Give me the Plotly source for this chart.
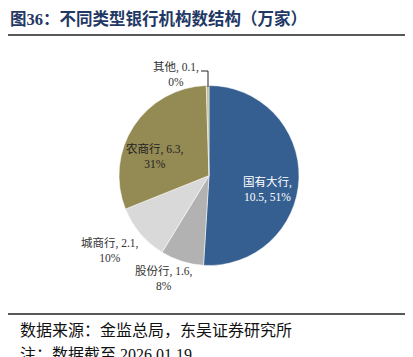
import plotly.graph_objects as go

categories = ["国有大行", "股份行", "城商行", "农商行", "其他"]
values = [10.5, 1.6, 2.1, 6.3, 0.1]
pcts = ["51%", "8%", "10%", "31%", "0%"]
colors = ["#365F91", "#B2B2B2", "#D9D9D9", "#948A54", "#C4BD97"]

title = "图36：不同类型银行机构数结构（万家）"
source = "数据来源：金监总局，东吴证券研究所"
note = "注：数据截至 2026.01.19"

# page body has an 8px margin, so the figure is drawn 8px smaller and coordinates are shifted
OFF = 8
W, H = 413 - OFF, 357 - OFF
cx, cy, r = 209 - OFF, 175.5 - OFF, 90


def px(x):
    return (x - OFF) / W


def py(y):
    return 1 - (y - OFF) / H


fig = go.Figure(go.Pie(
    labels=categories, values=values, sort=False, direction="clockwise",
    rotation=0, marker=dict(colors=colors, line=dict(color="white", width=0.5)),
    textinfo="none", hoverinfo="skip", showlegend=False,
    domain=dict(x=[(cx - r) / W, (cx + r) / W], y=[(H - cy - r) / H, (H - cy + r) / H]),
))

FONT = "Liberation Serif, Noto Sans CJK SC"
lab_font = dict(family=FONT, size=11.5)


def lab(i, split_after_name=False):
    if split_after_name:
        return f"{categories[i]},<br>{values[i]}, {pcts[i]}"
    return f"{categories[i]}, {values[i]},<br>{pcts[i]}"


ann = [
    (267, 190, lab(0, True), "white"),
    (164, 278, lab(1), "#333"),
    (110, 250, lab(2), "#333"),
    (155, 156, lab(3), "#222"),
    (176, 74, lab(4), "#333"),
]
annotations = []
for x, y, t, c in ann:
    annotations.append(dict(x=px(x), y=py(y), xref="paper", yref="paper", xanchor="center",
                            yanchor="middle", text=t, showarrow=False,
                            font=dict(lab_font, color=c), align="center"))

annotations.append(dict(x=px(8), y=py(19), xref="paper", yref="paper", xanchor="left", yanchor="middle",
                        text=f"<b>{title}</b>", showarrow=False,
                        font=dict(family=FONT, size=16.5, color="#1F3864")))
annotations.append(dict(x=px(18), y=py(330), xref="paper", yref="paper", xanchor="left", yanchor="middle",
                        text=source, showarrow=False,
                        font=dict(family=FONT, size=16, color="#111")))
annotations.append(dict(x=px(18), y=py(354), xref="paper", yref="paper", xanchor="left", yanchor="middle",
                        text=note, showarrow=False,
                        font=dict(family=FONT, size=16, color="#111")))

shapes = [
    dict(type="line", xref="paper", yref="paper", x0=px(8), x1=px(411), y0=py(35), y1=py(35),
         line=dict(color="#222", width=1.5)),
    dict(type="line", xref="paper", yref="paper", x0=px(8), x1=px(411), y0=py(314), y1=py(314),
         line=dict(color="#222", width=1.5)),
    dict(type="path", xref="paper", yref="paper",
         path=f"M {px(208)} {py(87)} L {px(208)} {py(71)} L {px(201)} {py(71)}",
         line=dict(color="#222", width=1)),
]

fig.update_layout(width=W, height=H, margin=dict(l=0, r=0, t=0, b=0),
                  paper_bgcolor="white", plot_bgcolor="white",
                  annotations=annotations, shapes=shapes)
fig.write_html("out.html")
